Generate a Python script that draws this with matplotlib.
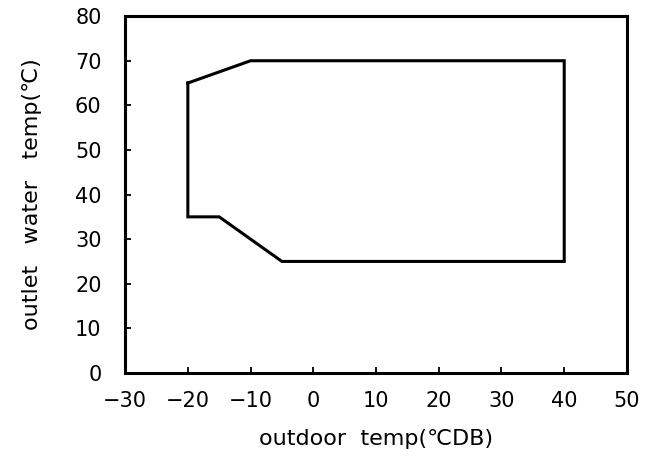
import matplotlib
matplotlib.use("Agg")
import matplotlib.pyplot as plt

# Operating envelope boundary (outdoor temp, outlet water temp)
outdoor_temp = [-20, -15, -10, 40, 40, -5, -10, -15, -20, -20]
water_temp = [65, 67.5, 70, 70, 25, 25, 30, 35, 35, 65]

x_ticks = [-30, -20, -10, 0, 10, 20, 30, 40, 50]
y_ticks = [0, 10, 20, 30, 40, 50, 60, 70, 80]
x_tick_labels = ['\u221230', '\u221220', '\u221210', '0', '10', '20', '30', '40', '50']

plt.rcParams['font.family'] = ['DejaVu Sans']

fig = plt.figure(figsize=(6.45, 4.61), dpi=100)
ax = fig.add_axes([0.194, 0.191, 0.778, 0.774])

ax.plot(outdoor_temp, water_temp, color='black', linewidth=2.2, solid_joinstyle='miter')

ax.set_xlim(-30, 50)
ax.set_ylim(0, 80)
ax.set_xticks(x_ticks)
ax.set_yticks(y_ticks)
ax.set_xticklabels(x_tick_labels)
ax.tick_params(direction='in', length=4.5, width=1.3, labelsize=15, colors='black')
ax.tick_params(axis='x', pad=13)
ax.tick_params(axis='y', pad=17)
for s in ax.spines.values():
    s.set_linewidth(2.2)
    s.set_color('black')

ax.set_xlabel('outdoor  temp(\u2103DB)', fontsize=16, labelpad=13)
ax.set_ylabel('outlet   water   temp(\u2103)', fontsize=16, labelpad=24)

fig.savefig('out.png', dpi=100)
